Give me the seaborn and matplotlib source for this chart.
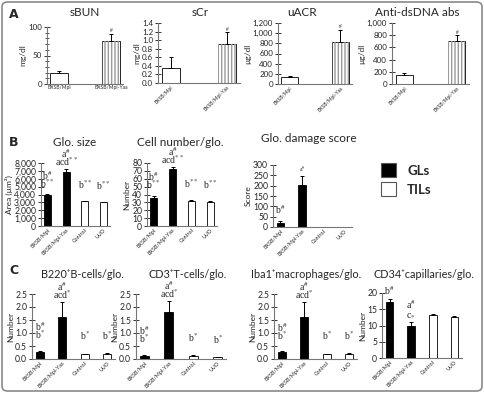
import numpy as np
import matplotlib
matplotlib.use('Agg')
import matplotlib.pyplot as plt
import seaborn as sns
from matplotlib.patches import FancyBboxPatch, Rectangle
from matplotlib.ticker import MultipleLocator, StrMethodFormatter

sns.set_theme(style="white")
plt.rcParams['font.family'] = ['Lato', 'DejaVu Sans']
plt.rcParams['mathtext.fontset'] = 'stix'

W, H = 484, 393

# ---- data ----
groups2 = ['BXSB/Mpl', 'BXSB/Mpl-Yaa']
groups4 = ['BXSB/Mpl', 'BXSB/Mpl-Yaa', 'Control', 'UUO']

sbun = [20, 75]
sbun_err = [2, 13]
scr = [0.35, 0.92]
scr_err = [0.25, 0.26]
uacr = [140, 830]
uacr_err = [15, 230]
dsdna = [150, 700]
dsdna_err = [30, 100]

glo_size = [3900, 6800, 3150, 3050]
glo_size_err = [120, 420, 40, 40]
cell_num = [36, 72, 32, 31]
cell_num_err = [1.5, 3, 0.8, 0.8]
damage = [18, 205, 0, 0]
damage_err = [10, 40, 0, 0]

b220 = [0.27, 1.63, 0.18, 0.20]
b220_err = [0.03, 0.58, 0.03, 0.03]
cd3 = [0.12, 1.80, 0.12, 0.08]
cd3_err = [0.04, 0.45, 0.02, 0.01]
iba1 = [0.26, 1.63, 0.18, 0.21]
iba1_err = [0.03, 0.56, 0.03, 0.03]
cd34 = [17.3, 9.8, 13.3, 12.7]
cd34_err = [0.9, 1.2, 0.3, 0.1]

ann_size = [r'b$^{\#}$' + '\n' + r'b$^{**}$', r'a$^{\#}$' + '\n' + r'acd$^{**}$', r'b$^{**}$', r'b$^{**}$']
ann_cells = ann_size
ann_damage = [r'b$^{\#}$', r'a$^{\#}$', '', '']
ann_c = [r'b$^{\#}$' + '\n' + r'b$^{*}$', r'a$^{\#}$' + '\n' + r'acd$^{*}$', r'b$^{*}$', r'b$^{*}$']
ann_cd34 = [r'b$^{\#}$', r'a$^{\#}$' + '\n' + r'c$_{*}$', '', '']

fig = plt.figure(figsize=(W / 100, H / 100), dpi=100)
fig.add_artist(FancyBboxPatch((2 / W, 2 / H), 1 - 4 / W, 1 - 4 / H,
                              boxstyle="round,pad=0,rounding_size=0.012",
                              transform=fig.transFigure, facecolor='none',
                              edgecolor='#8a8a8a', lw=1.2))


def add_ax(x0, x1, ytop, ybot):
    return fig.add_axes([x0 / W, 1 - ybot / H, (x1 - x0) / W, (ybot - ytop) / H])


def style_ax(ax, ymax, step, ylabel, fmt=None, minor=None, rot=45, xfs=3.9, yfs=6.2):
    ax.set_ylim(0, ymax)
    ax.yaxis.set_major_locator(MultipleLocator(step))
    if minor:
        ax.yaxis.set_minor_locator(MultipleLocator(minor))
    if fmt:
        ax.yaxis.set_major_formatter(StrMethodFormatter(fmt))
    for s in ['top', 'right']:
        ax.spines[s].set_visible(False)
    for s in ['left', 'bottom']:
        ax.spines[s].set_color('#777777')
        ax.spines[s].set_linewidth(0.8)
    ax.tick_params(axis='y', which='major', direction='inout', length=4, width=0.7,
                   color='#333333', labelsize=yfs, pad=1.5, left=True)
    ax.tick_params(axis='y', which='minor', direction='inout', length=3, width=0.6,
                   color='#333333', left=True)
    ax.tick_params(axis='x', length=0, labelsize=xfs, pad=1)
    ax.set_xlabel('')
    ax.set_ylabel(ylabel, fontsize=6, labelpad=1)
    if rot:
        for lab in ax.get_xticklabels():
            lab.set_rotation(rot)
            lab.set_ha('right')
            lab.set_rotation_mode('anchor')


def bars(ax, cats, vals, errs, colors, width):
    sns.barplot(x=cats, y=vals, hue=cats, palette=colors, legend=False, ax=ax,
                width=width, edgecolor='black', linewidth=0.6, errorbar=None)
    ax.errorbar(range(len(vals)), vals, yerr=[np.zeros(len(errs)), errs], fmt='none',
                ecolor='black', elinewidth=0.7, capsize=1.6, capthick=0.7)


def annotate(ax, vals, errs, labels, offs, fs=7, step=5.8):
    # each line placed separately so the stacking stays tight
    for i, (v, e, t, o) in enumerate(zip(vals, errs, labels, offs)):
        if not t:
            continue
        for k, line in enumerate(reversed(t.split('\n'))):
            ax.annotate(line, (i, v + e), xytext=(0, o + k * step), textcoords='offset points',
                        ha='center', va='bottom', fontsize=fs, family='Liberation Serif',
                        annotation_clip=False)


def hatch_second(ax):
    p = ax.patches[1]
    ax.add_patch(Rectangle(p.get_xy(), p.get_width(), p.get_height(), facecolor='none',
                           edgecolor='#9a9a9a', hatch='|||||', lw=0, zorder=p.get_zorder() + 0.1))


def title(x, y, t, fs=8.5):
    fig.text(x / W, 1 - y / H, t, ha='center', va='center', fontsize=fs)


# ---- panel A ----
white2 = ['white', 'white']
a_specs = [
    ((47, 123, 27, 84), sbun, sbun_err, 100, 50, 'mg/dl', None, 10, 0),
    ((158, 240, 23, 83), scr, scr_err, 1.4, 0.2, 'mg/dl', '{x:.1f}', None, 45),
    ((278, 352, 23, 84), uacr, uacr_err, 1200, 200, 'µg/dl', '{x:,.0f}', None, 45),
    ((392, 469, 23, 84), dsdna, dsdna_err, 1000, 200, 'µg/dl', '{x:,.0f}', None, 45),
]
for pos, v, e, ymax, step, yl, fmt, minor, rot in a_specs:
    ax = add_ax(*pos)
    bars(ax, groups2, v, e, white2, 0.33)
    hatch_second(ax)
    style_ax(ax, ymax, step, yl, fmt, minor, rot, xfs=3.6, yfs=5.8)
    annotate(ax, v, e, ['', '#'], [0, 0.5], fs=4)

title(85, 13, 'sBUN')
title(200, 13, 'sCr')
title(302, 13, 'uACR')
title(417, 13, 'Anti-dsDNA abs')

# ---- panel B ----
cols4 = ['black', 'black', 'white', 'white']
b_specs = [
    ((41, 110, 163, 226), glo_size, glo_size_err, 8000, 1000, 'Area (µm²)', '{x:,.0f}', ann_size, [3, 0.5, 7, 7]),
    ((147, 217, 163, 226), cell_num, cell_num_err, 80, 10, 'Number', None, ann_cells, [4, 0.5, 7, 7]),
    ((273, 352, 165, 227), damage, damage_err, 300, 50, 'Score', None, ann_damage, [4, 2, 0, 0]),
]
for pos, v, e, ymax, step, yl, fmt, ann, offs in b_specs:
    ax = add_ax(*pos)
    bars(ax, groups4, v, e, cols4, 0.36)
    style_ax(ax, ymax, step, yl, fmt)
    annotate(ax, v, e, ann, offs)
    if ann is ann_damage:
        ax.texts[-1].set_fontsize(4)

title(75, 143, 'Glo. size')
title(180, 143, 'Cell number/glo.')
title(309, 139, 'Glo. damage score')

# legend
fig.add_artist(Rectangle((381 / W, 1 - 177 / H), 15 / W, 14 / H, transform=fig.transFigure,
                         facecolor='black', edgecolor='#555555', lw=0.8))
fig.add_artist(Rectangle((381 / W, 1 - 196 / H), 15 / W, 14 / H, transform=fig.transFigure,
                         facecolor='white', edgecolor='#555555', lw=0.8))
fig.text(407 / W, 1 - 171 / H, 'GLs', fontsize=9.5, fontweight='bold', va='center')
fig.text(407 / W, 1 - 190 / H, 'TILs', fontsize=9.5, fontweight='bold', va='center')

# ---- panel C ----
c_specs = [
    ((32, 115, 294, 359), b220, b220_err, 2.5, 0.5, ann_c, [7, 0.5, 8, 8]),
    ((136, 226, 294, 359), cd3, cd3_err, 2.5, 0.5, ann_c, [7, 0.5, 8, 8]),
    ((274, 357, 294, 359), iba1, iba1_err, 2.5, 0.5, ann_c, [7, 0.5, 8, 8]),
    ((382, 462, 293, 358), cd34, cd34_err, 20, 5, ann_cd34, [1.5, 2.5, 0, 0]),
]
for pos, v, e, ymax, step, ann, offs in c_specs:
    ax = add_ax(*pos)
    bars(ax, groups4, v, e, cols4, 0.36)
    style_ax(ax, ymax, step, 'Number', '{x:.1f}' if ymax < 5 else None)
    annotate(ax, v, e, ann, offs)

title(82, 275, 'B220⁺B-cells/glo.', fs=7.8)
title(188, 275, 'CD3⁺T-cells/glo.', fs=7.8)
title(306, 275, 'Iba1⁺macrophages/glo.', fs=7.8)
title(424, 275, 'CD34⁺capillaries/glo.', fs=7.8)

# panel letters
for x, y, t in [(9, 15, 'A'), (9, 143, 'B'), (9, 271, 'C')]:
    fig.text(x / W, 1 - y / H, t, fontsize=9, fontweight='bold', va='center', family='DejaVu Sans')

fig.savefig('out.png', dpi=100)
